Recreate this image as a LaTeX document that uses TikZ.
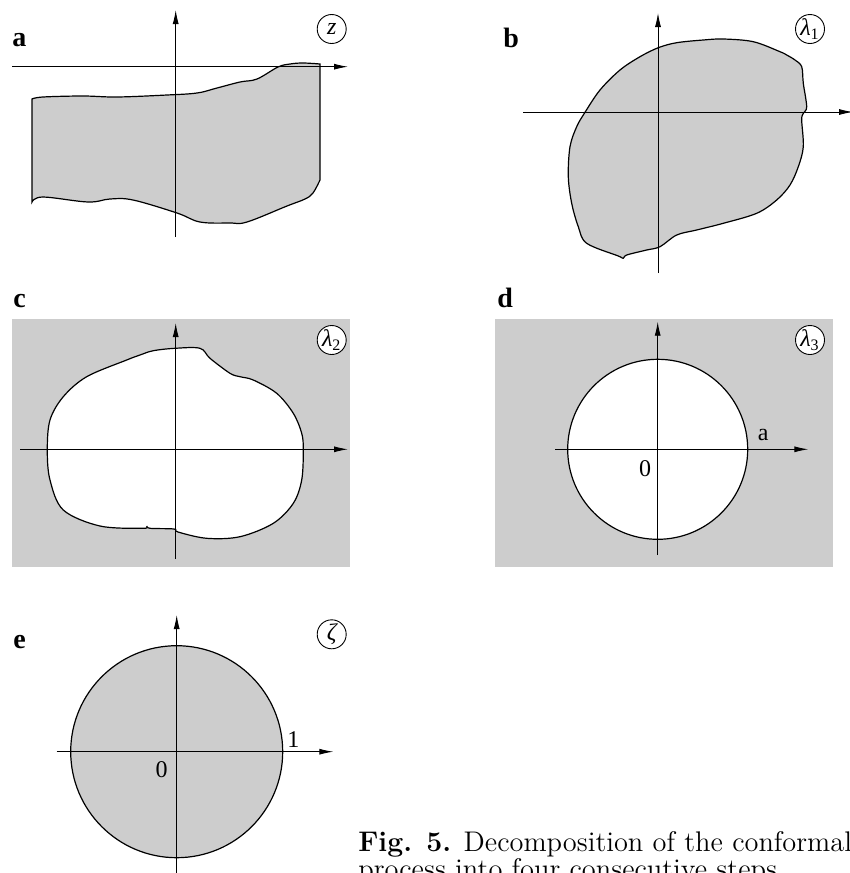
\documentclass[tikz,border=0pt]{standalone}
\usepackage{fontspec}
\usetikzlibrary{arrows.meta,positioning}
\newfontfamily\timesfont{Liberation Serif}
\definecolor{regiongray}{RGB}{205,205,205}

\begin{document}
\begin{tikzpicture}[x=0.5pt, y=-0.5pt,
  axis/.style={-{Latex[length=7pt,width=3pt]}, line width=0.45pt},
  border/.style={line width=0.6pt},
  region/.style={border, fill=regiongray},
  hole/.style={border, fill=white},
  panel/.style={font=\timesfont\bfseries\fontsize{14}{14}\selectfont,
    anchor=base west, inner sep=0pt},
  plane/.style={draw, circle, fill=white, minimum size=14.5pt, inner sep=0pt,
    line width=0.45pt, font=\timesfont\itshape\fontsize{12}{12}\selectfont},
  value/.style={font=\timesfont\fontsize{12}{12}\selectfont, inner sep=1pt},
  caption/.style={font=\fontsize{14.2}{16}\selectfont, anchor=base west, inner sep=0pt},
]
  \useasboundingbox (0,0) rectangle (850,873);

  % a
  \draw[region] (32,202) -- (32,99)
    -- plot[smooth, tension=0.6] coordinates {(32,99) (43,97) (83,96) (117,97) (167,95)
      (197,93) (217,88) (240,82) (257,79) (278,67) (290,64) (303,63) (320,64)}
    -- (320,180)
    -- plot[smooth, tension=0.6] coordinates {(320,180) (313,193) (305,199) (287,206)
      (247,222) (230,223) (200,222) (177,213) (133,200) (110,199) (88,202) (43,197) (32,202)}
    -- cycle;
  \draw[axis] (175.7,237) -- (175.7,10);
  \draw[axis] (12,66.7) -- (348,66.7);
  \node[panel] (labA) at (12,46) {a};
  \node[plane] (tagZ) at (331.7,29) {z};

  % b
  \draw[region] plot[smooth cycle, tension=0.55] coordinates {(586.7,243.3) (578.3,226.7)
    (571.7,203.3) (568.3,176.7) (570,146.7) (576.7,126.7) (585,112.3) (600,90) (620,70)
    (640,56.7) (658.3,47.7) (676.7,42.7) (703.3,40) (723.3,39) (753.3,41.7) (780,51.7)
    (786.7,55) (795,60) (801.7,66.7) (803.3,83.3) (806.7,106.7) (803.3,113.3) (801.7,120)
    (803.3,146.7) (798.3,166.7) (790,185) (776.7,200) (756.7,213.3) (723.3,223.3)
    (696.7,230) (676.7,235) (660,246.7) (646.7,250) (626.7,255) (623.3,258.3) (618.3,256)};
  \draw[axis] (658,273) -- (658,13);
  \draw[axis] (523,112) -- (853,112);
  \node[panel] (labB) at (503,47) {b};
  \node[plane] (tagLa) at (810,29) {λ\textsubscript{\upshape 1}};

  % c
  \fill[regiongray] (12,319) rectangle (350,567);
  \draw[hole] plot[smooth cycle, tension=0.55] coordinates {(175,348.3) (200,348.3)
    (210,358.3) (230,373.3) (240,376.7) (253.3,380) (276.7,393.3) (293.3,413.3)
    (301.7,433.3) (303.3,450) (301.7,480) (293.3,503.3) (273.3,523.3) (240,536.7)
    (206.7,538.3) (178,532) (174,529) (150,528.3) (146.7,526) (143.3,528.3)
    (100,526) (63.3,510) (50,480) (47.3,450) (50,420) (63.3,396.7) (86.7,376.7)
    (126.7,360) (140,355) (153.3,350.7)};
  \draw[axis] (175.7,559) -- (175.7,323);
  \draw[axis] (20,449.3) -- (348,449.3);
  \node[panel] (labC) at (13,307) {c};
  \node[plane] (tagLb) at (331.7,340) {λ\textsubscript{\upshape 2}};

  % d
  \fill[regiongray] (495,319) rectangle (833,567);
  \draw[hole] (657.7,449.3) circle[radius=90];
  \draw[axis] (657.7,555) -- (657.7,321.7);
  \draw[axis] (555,449.3) -- (808.3,449.3);
  \node[panel] (labD) at (497,307) {d};
  \node[plane] (tagLc) at (810,340) {λ\textsubscript{\upshape 3}};
  \node[value] (radA) at (763.3,435) {a};
  \node[value] (zeroD) at (645,468.3) {0};

  % e
  \draw[region] (176.7,751.7) circle[radius=106];
  \draw[axis] (176.7,880) -- (176.7,615);
  \draw[axis] (56.7,751.7) -- (333.3,751.7);
  \node[panel] (labE) at (13,648) {e};
  \node[plane] (tagZeta) at (331.7,634.3) {ζ};
  \node[value] (one) at (293.3,740) {1};
  \node[value] (zeroE) at (161.7,770) {0};

  \node[caption] (capA) at (358,851) {\textbf{Fig. 5.} Decomposition of the conformal};
  \node[caption] (capB) at (358,878) {process into four consecutive steps};
\end{tikzpicture}
\end{document}
